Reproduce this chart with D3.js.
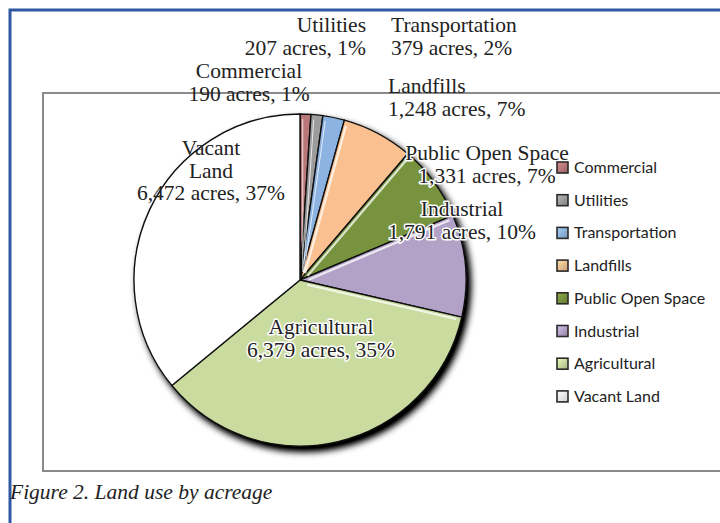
<!DOCTYPE html>
<html>
<head>
<meta charset="utf-8">
<script src="https://cdn.jsdelivr.net/npm/d3@7"></script>
<style>
  body { margin: 0; background: #fff; }
  svg { display: block; }
</style>
</head>
<body>
<div id="chart"></div>
<script>
// Land use data (acres)
var categories = ["Commercial", "Utilities", "Transportation", "Landfills",
                  "Public Open Space", "Industrial", "Agricultural", "Vacant Land"];
var acres = [190, 207, 379, 1248, 1331, 1791, 6379, 6472];
var percents = [1, 1, 2, 7, 7, 10, 35, 37];
var labelNames = [["Commercial"], ["Utilities"], ["Transportation"], ["Landfills"],
                  ["Public Open Space"], ["Industrial"], ["Agricultural"], ["Vacant", "Land"]];
var colors = ["#b9777a", "#9c9c9c", "#8db3e2", "#fac08f",
              "#77933c", "#b3a2c7", "#c9db9f", "#ffffff"];

// label placement (anchor, x, first baseline, halo)
var labelPos = [
  {anchor: "middle", x: 249, y: 78, halo: false},
  {anchor: "end", x: 366, y: 32, halo: false},
  {anchor: "start", x: 391, y: 32, halo: false},
  {anchor: "start", x: 388, y: 93, halo: false},
  {anchor: "middle", x: 487, y: 160, halo: true},
  {anchor: "middle", x: 462, y: 216, halo: true},
  {anchor: "middle", x: 321, y: 334, halo: true},
  {anchor: "middle", x: 211, y: 155, halo: false}
];

var svgWidth = 720;
var svgHeight = 523;
var cx = 300, cy = 280, radius = 166;

var svg = d3.select("#chart")
  .append("svg")
  .attr("width", svgWidth)
  .attr("height", svgHeight);

var defs = svg.append("defs");

// soft shadow to the lower right of the pie
var shadow = defs.append("filter")
  .attr("id", "shadow")
  .attr("x", "-20%").attr("y", "-20%")
  .attr("width", "140%").attr("height", "140%");
shadow.append("feGaussianBlur").attr("in", "SourceAlpha").attr("stdDeviation", 3.5).attr("result", "blur");
shadow.append("feOffset").attr("in", "blur").attr("dx", 4).attr("dy", 5).attr("result", "off");
shadow.append("feComponentTransfer").attr("in", "off").attr("result", "dark")
  .append("feFuncA").attr("type", "linear").attr("slope", 1.2);
var merge = shadow.append("feMerge");
merge.append("feMergeNode").attr("in", "dark");
merge.append("feMergeNode").attr("in", "SourceGraphic");

// gradients for legend swatches
colors.forEach(function(c, i) {
  var g = defs.append("linearGradient")
    .attr("id", "sw" + i)
    .attr("x1", "0").attr("y1", "0").attr("x2", "1").attr("y2", "1");
  g.append("stop").attr("offset", "0%").attr("stop-color", d3.color(c).brighter(0.5));
  g.append("stop").attr("offset", "100%").attr("stop-color", d3.color(c).darker(0.6));
});

// outer blue page border
svg.append("path")
  .attr("d", "M10,523 L10,10 L720,10")
  .attr("fill", "none")
  .attr("stroke", "#2f58a3")
  .attr("stroke-width", 3);

// gray chart frame
svg.append("rect")
  .attr("x", 43).attr("y", 93)
  .attr("width", 720).attr("height", 378)
  .attr("fill", "none")
  .attr("stroke", "#8a8a8a")
  .attr("stroke-width", 2);

// pie
var pie = d3.pie().sort(null).value(function(d) { return d; });
var arcs = pie(acres);
var arc = d3.arc().innerRadius(0).outerRadius(radius);

var pieGroup = svg.append("g")
  .attr("transform", "translate(" + cx + "," + cy + ")");

pieGroup.append("g")
  .attr("filter", "url(#shadow)")
  .selectAll("path")
  .data(arcs)
  .enter()
  .append("path")
  .attr("d", arc)
  .attr("fill", function(d, i) { return colors[i]; })
  .attr("stroke", "#111")
  .attr("stroke-width", 1.4)
  .attr("stroke-linejoin", "round");

// bevel highlight along the leading edge of each slice
pieGroup.selectAll("line.hl")
  .data(arcs)
  .enter()
  .append("line")
  .attr("class", "hl")
  .each(function(d) {
    var a = d.startAngle + 0.0001;
    var span = d.endAngle - d.startAngle;
    var off = Math.min(3, span * radius * 0.25);
    var nx = Math.cos(a) * off, ny = Math.sin(a) * off;
    var r0 = 8, r1 = radius - 5;
    d3.select(this)
      .attr("x1", r0 * Math.sin(a) + nx)
      .attr("y1", -r0 * Math.cos(a) + ny)
      .attr("x2", r1 * Math.sin(a) + nx)
      .attr("y2", -r1 * Math.cos(a) + ny);
  })
  .attr("stroke", "#ffffff")
  .attr("stroke-opacity", function(d, i) { return i === 7 ? 0 : 0.75; })
  .attr("stroke-width", function(d) { return (d.endAngle - d.startAngle) > 0.2 ? 2.2 : 1; });

// data labels
var fmt = d3.format(",");
var labels = svg.append("g")
  .attr("font-family", "'Palatino Linotype', Palatino, 'Book Antiqua', 'Liberation Serif', serif")
  .attr("font-size", "21.5px")
  .attr("fill", "#222");

categories.forEach(function(c, i) {
  var p = labelPos[i];
  var lines = labelNames[i].concat([fmt(acres[i]) + " acres, " + percents[i] + "%"]);
  var t = labels.append("text")
    .attr("text-anchor", p.anchor)
    .attr("x", p.x)
    .attr("y", p.y);
  if (p.halo) {
    t.attr("stroke", "#ffffff")
     .attr("stroke-width", 3)
     .attr("paint-order", "stroke")
     .attr("stroke-linejoin", "round");
  }
  lines.forEach(function(s, j) {
    t.append("tspan")
      .attr("x", p.x)
      .attr("dy", j === 0 ? 0 : 22.7)
      .text(s);
  });
});

// legend
var legend = svg.append("g")
  .attr("transform", "translate(557,162)");

var items = legend.selectAll("g")
  .data(categories)
  .enter()
  .append("g")
  .attr("transform", function(d, i) { return "translate(0," + (i * 32.7) + ")"; });

items.append("rect")
  .attr("width", 11)
  .attr("height", 11)
  .attr("fill", function(d, i) { return "url(#sw" + i + ")"; })
  .attr("stroke", "#2a2a2a")
  .attr("stroke-width", 1.6);

items.append("text")
  .attr("x", 17)
  .attr("y", 11)
  .attr("font-family", "Lato, 'Open Sans', sans-serif")
  .attr("font-size", "16px")
  .attr("fill", "#222")
  .text(function(d) { return d; });

// caption
svg.append("text")
  .attr("x", 10)
  .attr("y", 499)
  .attr("font-family", "'Palatino Linotype', 'Liberation Serif', serif")
  .attr("font-style", "italic")
  .attr("font-size", "21.5px")
  .attr("fill", "#222")
  .text("Figure 2. Land use by acreage");
</script>
</body>
</html>
